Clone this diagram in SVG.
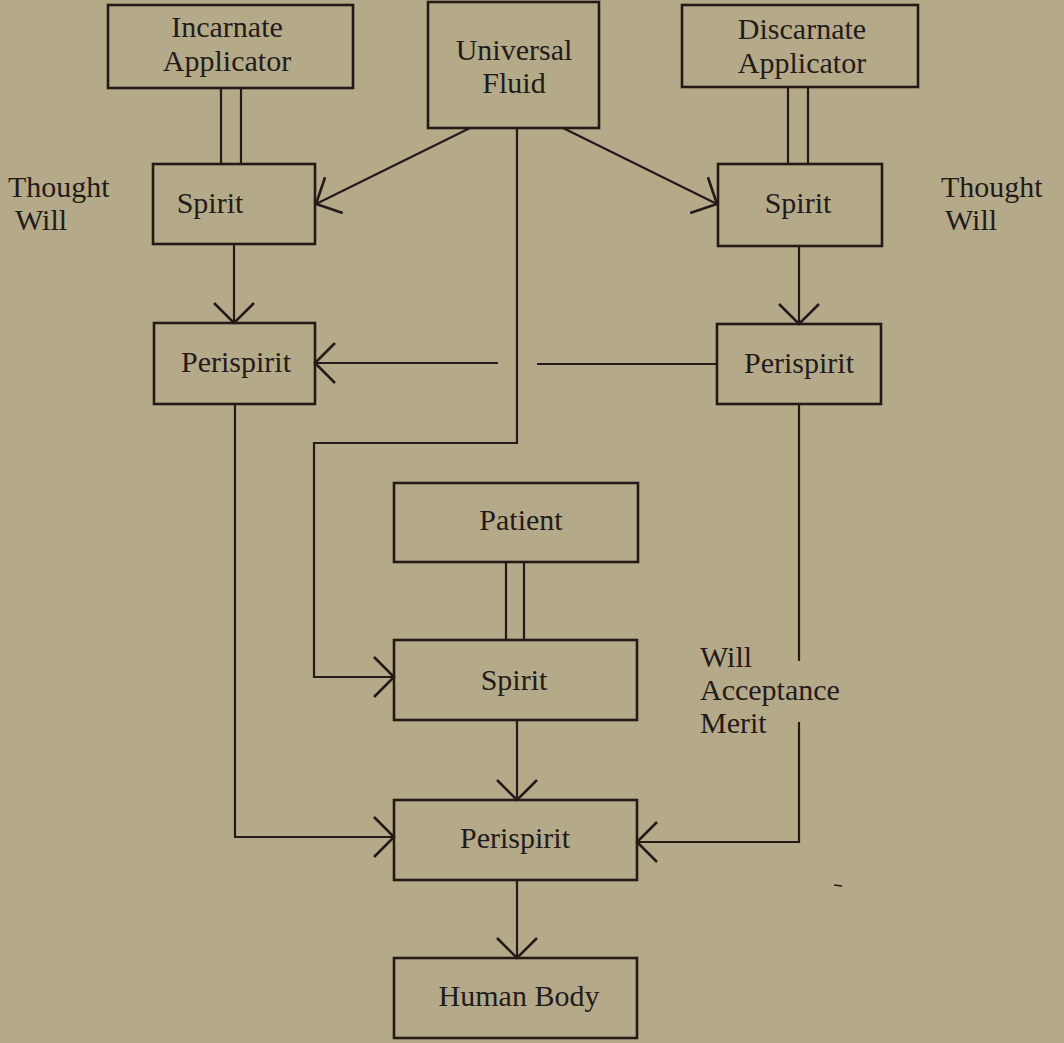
<svg xmlns="http://www.w3.org/2000/svg" width="1064" height="1043" viewBox="0 0 1064 1043">
<style>
.bg{fill:#b4aa89}
.box{fill:none;stroke:#241b19;stroke-width:2.6}
.ln{fill:none;stroke:#241b19;stroke-width:2.2}
.t{font-family:"Liberation Serif","Times New Roman",serif;font-size:30px;fill:#241b19}
.c{text-anchor:middle}
</style>
<defs>
<marker id="ah" markerUnits="userSpaceOnUse" orient="auto" overflow="visible" refX="0" refY="0" markerWidth="1" markerHeight="1">
<path d="M-20,-20 L0,0 L-20,20" fill="none" stroke="#241b19" stroke-width="2.6"/>
</marker>
</defs>
<rect class="bg" x="0" y="0" width="1064" height="1043"/>

<g id="connectors">
<line class="ln" x1="470" y1="128" x2="316" y2="204" marker-end="url(#ah)"/>
<line class="ln" x1="563" y1="128" x2="717" y2="204" marker-end="url(#ah)"/>
<line class="ln" x1="221" y1="88" x2="221" y2="164"/>
<line class="ln" x1="241" y1="88" x2="241" y2="164"/>
<line class="ln" x1="788" y1="87" x2="788" y2="164"/>
<line class="ln" x1="808" y1="87" x2="808" y2="164"/>
<line class="ln" x1="234" y1="244" x2="234" y2="323" marker-end="url(#ah)"/>
<line class="ln" x1="799" y1="246" x2="799" y2="324" marker-end="url(#ah)"/>
<path class="ln" d="M517,128 V443 H314 V677 H394" marker-end="url(#ah)"/>
<line class="ln" x1="717" y1="364" x2="537" y2="364"/>
<line class="ln" x1="498" y1="363" x2="315" y2="363" marker-end="url(#ah)"/>
<line class="ln" x1="506" y1="562" x2="506" y2="640"/>
<line class="ln" x1="524" y1="562" x2="524" y2="640"/>
<line class="ln" x1="517" y1="720" x2="517" y2="800" marker-end="url(#ah)"/>
<path class="ln" d="M235,404 V837 H394" marker-end="url(#ah)"/>
<line class="ln" x1="799" y1="404" x2="799" y2="661"/>
<path class="ln" d="M799,722 V842 H637" marker-end="url(#ah)"/>
<line class="ln" x1="517" y1="880" x2="517" y2="958" marker-end="url(#ah)"/>
</g>

<g id="incarnate-applicator">
<rect class="box" x="108" y="5" width="245" height="83"/>
<text class="t c" x="227" y="37">Incarnate</text>
<text class="t c" x="227" y="71">Applicator</text>
</g>
<g id="universal-fluid">
<rect class="box" x="428" y="2" width="171" height="126"/>
<text class="t c" x="514" y="60">Universal</text>
<text class="t c" x="514" y="93">Fluid</text>
</g>
<g id="discarnate-applicator">
<rect class="box" x="682" y="5" width="236" height="82"/>
<text class="t c" x="802" y="39">Discarnate</text>
<text class="t c" x="802" y="73">Applicator</text>
</g>
<g id="spirit-left">
<rect class="box" x="153" y="164" width="162" height="80"/>
<text class="t c" x="210" y="213">Spirit</text>
</g>
<g id="spirit-right">
<rect class="box" x="718" y="164" width="164" height="82"/>
<text class="t c" x="798" y="213">Spirit</text>
</g>
<g id="thought-will-left">
<text class="t" x="8" y="197">Thought</text>
<text class="t" x="15" y="230">Will</text>
</g>
<g id="thought-will-right">
<text class="t" x="941" y="197">Thought</text>
<text class="t" x="945" y="230">Will</text>
</g>
<g id="perispirit-left">
<rect class="box" x="154" y="323" width="161" height="81"/>
<text class="t c" x="236" y="372">Perispirit</text>
</g>
<g id="perispirit-right">
<rect class="box" x="717" y="324" width="164" height="80"/>
<text class="t c" x="799" y="373">Perispirit</text>
</g>
<g id="patient">
<rect class="box" x="394" y="483" width="244" height="79"/>
<text class="t c" x="521" y="530">Patient</text>
</g>
<g id="spirit-patient">
<rect class="box" x="394" y="640" width="243" height="80"/>
<text class="t c" x="514" y="690">Spirit</text>
</g>
<g id="will-acceptance-merit">
<text class="t" x="700" y="667">Will</text>
<text class="t" x="700" y="700">Acceptance</text>
<text class="t" x="700" y="733">Merit</text>
</g>
<g id="perispirit-patient">
<rect class="box" x="394" y="800" width="243" height="80"/>
<text class="t c" x="515" y="848">Perispirit</text>
</g>
<g id="human-body">
<rect class="box" x="394" y="958" width="243" height="80"/>
<text class="t c" x="519" y="1006">Human Body</text>
</g>
<line x1="834" y1="885" x2="842" y2="886" stroke="#241b19" stroke-width="1.5"/>
</svg>
